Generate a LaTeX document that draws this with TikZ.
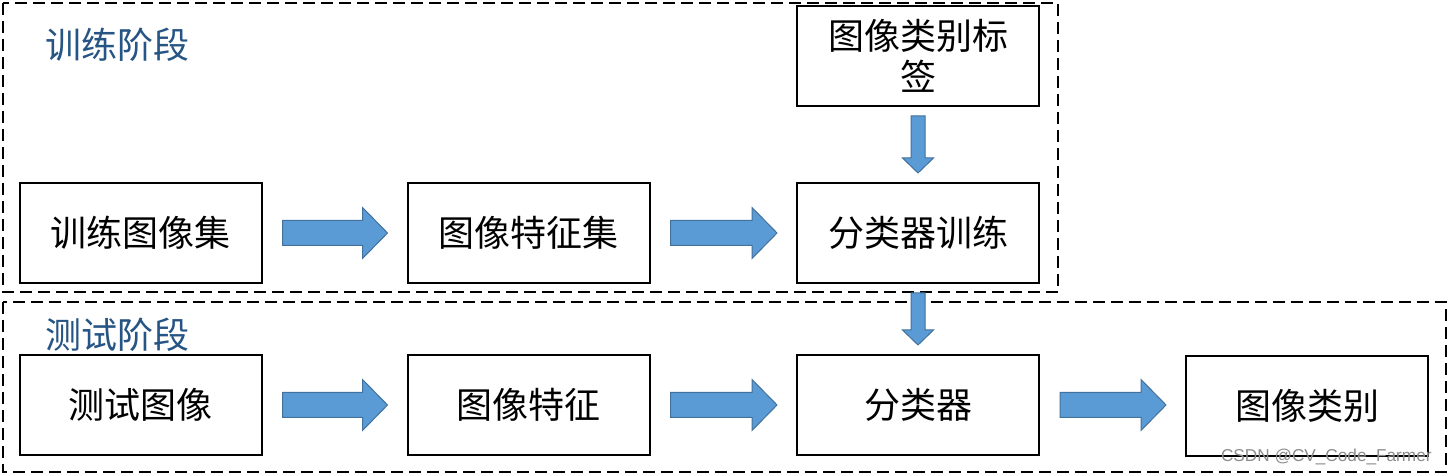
\documentclass[tikz,border=0pt]{standalone}
\usepackage{fontspec}
\setmainfont{Liberation Sans}
\newfontfamily\cjk{Noto Sans CJK SC}
\usetikzlibrary{calc}
\definecolor{arrowfill}{HTML}{5B9BD5}
\definecolor{arrowedge}{HTML}{41719C}
\definecolor{stagecol}{RGB}{38,84,132}
\tikzset{
  procbox/.style={draw=black,line width=1pt,minimum width=121pt,minimum height=50pt,inner sep=0pt,align=center,font=\cjk\fontsize{18pt}{20.5pt}\selectfont},
  stagebox/.style={draw=black,line width=1pt,dash pattern=on 6pt off 3pt},
  stagelabel/.style={anchor=west,inner sep=0pt,text=stagecol,font=\cjk\fontsize{18pt}{20pt}\selectfont},
  blk/.style={fill=arrowfill,draw=arrowedge,line width=0.5pt,line join=miter}
}
\newcommand\harrow[2]{\draw[blk] let \p1=(#1.east), \p2=(#2.west) in
  (\x1+10pt,\y1+6.25pt) -- (\x2-22pt,\y1+6.25pt) -- (\x2-22pt,\y1+12.75pt) -- (\x2-9.5pt,\y1)
  -- (\x2-22pt,\y1-12.75pt) -- (\x2-22pt,\y1-6.25pt) -- (\x1+10pt,\y1-6.25pt) -- cycle;}
\newcommand\varrow[2]{\draw[blk] let \p1=(#1.south), \p2=(#2.north) in
  (\x1-3.5pt,\y1-4.5pt) -- (\x1+3.5pt,\y1-4.5pt) -- (\x1+3.5pt,\y2+12pt) -- (\x1+7.75pt,\y2+12pt)
  -- (\x1,\y2+4.5pt) -- (\x1-7.75pt,\y2+12pt) -- (\x1-3.5pt,\y2+12pt) -- cycle;}
\begin{document}
\begin{tikzpicture}[x=0.5pt,y=-0.5pt]
\useasboundingbox[fill=white] (0,0) rectangle (1448,474);
% stage frames
\draw[stagebox] (3,3) rectangle (1058,292);
\draw[stagebox] (3,302) rectangle (1446,472);
\node[stagelabel] (lt) at (45,45) {训练阶段};
\node[stagelabel] (ls) at (45,335) {测试阶段};
% training row
\node[procbox] (t1) at (140.5,233) {训练图像集};
\node[procbox] (t2) at (528.5,233) {图像特征集};
\node[procbox] (t3) at (918,233) {分类器训练};
\node[procbox] (lab) at (918,56) {图像类别标\\签};
% test row
\node[procbox] (s1) at (140.5,405) {测试图像};
\node[procbox] (s2) at (528.5,405) {图像特征};
\node[procbox] (s3) at (918,405) {分类器};
\node[procbox] (s4) at (1307,406) {图像类别};
% arrows
\harrow{t1}{t2}
\harrow{t2}{t3}
\harrow{s1}{s2}
\harrow{s2}{s3}
\harrow{s3}{s4}
\varrow{lab}{t3}
\varrow{t3}{s3}
% watermark
\node[anchor=east,inner sep=0pt,text=black!45,font=\fontsize{8.6pt}{9pt}\selectfont] (wm) at (1432,457) {CSDN @CV\_Code\_Farmer};
\end{tikzpicture}
\end{document}
